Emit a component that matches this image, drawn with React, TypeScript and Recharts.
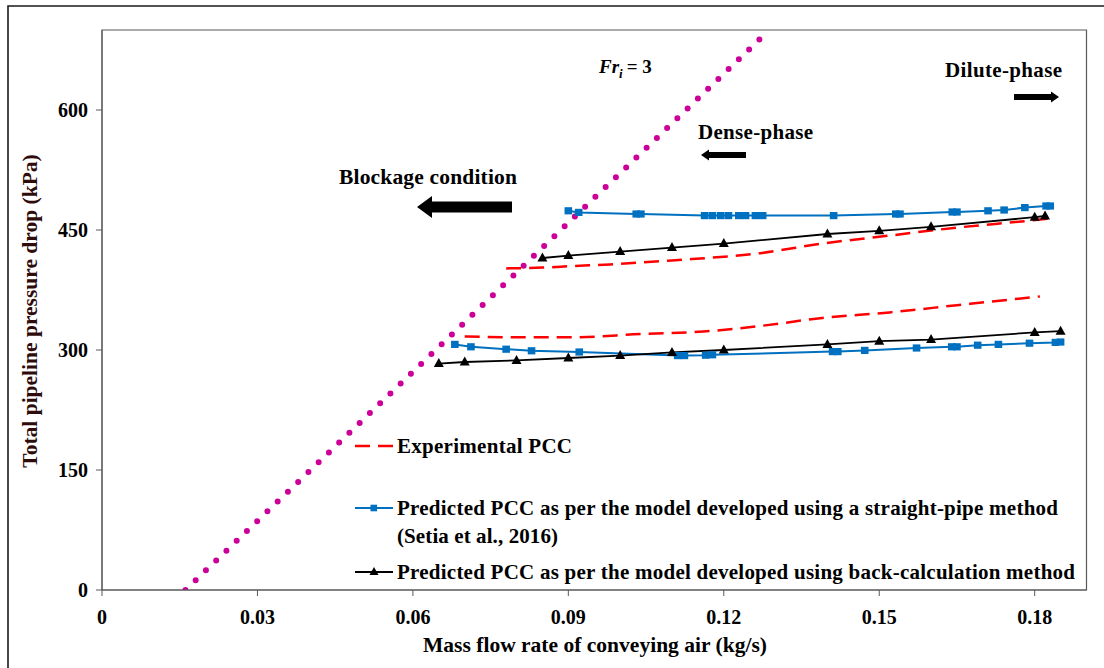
import { Legend, Line, LineChart, ReferenceArea, XAxis, YAxis } from "recharts";

// Fr_i = 3 boundary (straight line in this plane)
const froudeX = [0.0161, 0.1288];
const froudeY = [0, 700];

// experimental PCC, upper and lower solids loading
const expHighX = [0.078, 0.085, 0.091, 0.098, 0.11, 0.127, 0.139, 0.152, 0.165, 0.178, 0.184];
const expHighY = [402, 403, 405, 407, 412, 421, 433, 443, 453, 461, 465];
const expLowX = [0.07, 0.078, 0.091, 0.104, 0.116, 0.127, 0.139, 0.152, 0.165, 0.181];
const expLowY = [317, 316, 316, 320, 323, 330, 340, 347, 356, 367];

// straight-pipe model (Setia et al., 2016)
const pipeHighX = [
  0.09, 0.092, 0.1031, 0.104, 0.1163, 0.1178, 0.1194, 0.1209, 0.1229, 0.1242, 0.1261,
  0.1275, 0.1412, 0.1532, 0.154, 0.1641, 0.165, 0.171, 0.1741, 0.1781, 0.1822, 0.183,
];
const pipeHighY = [
  474, 472, 470, 470, 468, 468, 468, 468, 468, 468, 468, 468, 468, 470, 470, 472.5, 472.5,
  474, 475, 478, 480, 480,
];
const pipeLowX = [
  0.0681, 0.0712, 0.078, 0.0829, 0.0921, 0.1111, 0.1124, 0.1165, 0.1178, 0.141, 0.142,
  0.1472, 0.1572, 0.164, 0.165, 0.169, 0.173, 0.179, 0.184, 0.185,
];
const pipeLowY = [
  307, 304, 301, 299, 297.5, 293, 293, 293.5, 294, 298, 298, 299.5, 302.5, 304, 304, 306,
  307, 308.5, 309.5, 310,
];

// back-calculation model
const backHighX = [0.085, 0.09, 0.1, 0.11, 0.12, 0.14, 0.15, 0.16, 0.18, 0.182];
const backHighY = [415, 418, 423, 428, 433, 445, 449, 454, 466, 467.5];
const backLowX = [0.065, 0.07, 0.08, 0.09, 0.1, 0.11, 0.12, 0.14, 0.15, 0.16, 0.18, 0.185];
const backLowY = [283, 285, 287, 290, 293, 297, 300, 307, 311, 313, 322, 323.5];

const xTicks = [0, 0.03, 0.06, 0.09, 0.12, 0.15, 0.18];
const yTicks = [0, 150, 300, 450, 600];

const legendNames = [
  "Experimental PCC",
  "Predicted PCC as per the model developed using a straight-pipe method (Setia et al., 2016)",
  "Predicted PCC as per the model developed using back-calculation method",
];

const zip = (xs: number[], ys: number[]) => xs.map((x, i) => ({ x, y: ys[i] }));

const serif = "'Liberation Serif', 'Times New Roman', serif";
const BLUE = "#0070C0";
const RED = "#FF0000";
const MAGENTA = "#CC0099";
const AXIS = "#595959";

function Square(props: any) {
  const { cx, cy, index } = props;
  if (cx == null || cy == null) return <g key={`sq-${index}`} />;
  return <rect key={`sq-${index}`} x={cx - 3.8} y={cy - 3.6} width={7.6} height={7.2} fill={BLUE} />;
}

function Triangle(props: any) {
  const { cx, cy, index } = props;
  if (cx == null || cy == null) return <g key={`tr-${index}`} />;
  return (
    <path key={`tr-${index}`} d={`M${cx},${cy - 5.5} L${cx + 5},${cy + 3.5} L${cx - 5},${cy + 3.5} Z`} fill="#000" />
  );
}

function PccLegend({ payload }: any) {
  const items = (payload || []).filter((e: any) => e.type !== "none");
  const rowY = [21, 83, 147];
  const widths = [[175], [661, 161], [678]];
  return (
    <svg width={750} height={165} style={{ overflow: "visible" }}>
      {items.map((entry: any, i: number) => {
        const y = rowY[i];
        const text: string = entry.value;
        const cut = text.indexOf(" (Setia");
        const lines = cut > 0 ? [text.slice(0, cut), text.slice(cut + 1)] : [text];
        return (
          <g key={text}>
            {i === 0 && <line x1={10} x2={48} y1={y} y2={y} stroke={RED} strokeWidth={2.5} strokeDasharray="15 8" />}
            {i === 1 && (
              <g>
                <line x1={10} x2={48} y1={y} y2={y} stroke={BLUE} strokeWidth={2} />
                <rect x={25.5} y={y - 3.3} width={6.6} height={6.6} fill={BLUE} />
              </g>
            )}
            {i === 2 && (
              <g>
                <line x1={10} x2={48} y1={y} y2={y} stroke="#000" strokeWidth={2} />
                <path d={`M29,${y - 5} L33.5,${y + 3} L24.5,${y + 3} Z`} fill="#000" />
              </g>
            )}
            {lines.map((ln, k) => (
              <text
                key={ln}
                x={52}
                y={y + k * 28 + 7}
                fontFamily={serif}
                fontWeight={700}
                fontSize={21}
                fill="#000"
                textLength={widths[i][k]}
                lengthAdjust="spacing"
              >
                {ln}
              </text>
            ))}
          </g>
        );
      })}
    </svg>
  );
}

function Arrow({ tip, tail, y, body, head, headLen }: { tip: number; tail: number; y: number; body: number; head: number; headLen: number }) {
  const dir = tail > tip ? 1 : -1;
  const neck = tip + dir * headLen;
  const d = `M${tip},${y} L${neck},${y - head} L${neck},${y - body} L${tail},${y - body} L${tail},${y + body} L${neck},${y + body} L${neck},${y + head} Z`;
  return <path d={d} fill="#000" />;
}

export default function App() {
  const labelStyle = { fontFamily: serif, fontWeight: 700, fill: "#000" } as const;
  return (
    <div style={{ position: "relative", width: 1104, height: 668, background: "#fff" }}>
      <style>{"body{margin:0;background:#fff}"}</style>
      <LineChart width={1104} height={668} margin={{ top: 30, right: 17.5, bottom: 28, left: 0 }}>
        <ReferenceArea x1={0} x2={0.19} y1={0} y2={700} fill="none" stroke={AXIS} strokeWidth={1.2} />
        <XAxis
          dataKey="x"
          type="number"
          domain={[0, 0.19]}
          ticks={xTicks}
          allowDataOverflow
          stroke={AXIS}
          tickSize={6}
          tickMargin={14}
          height={50}
          tickFormatter={(v: number) => (v === 0 ? "0" : v.toFixed(2))}
          tick={{ fill: "#000", fontSize: 20, fontWeight: 700, fontFamily: serif }}
        />
        <YAxis
          type="number"
          domain={[0, 700]}
          ticks={yTicks}
          allowDataOverflow
          width={102}
          stroke={AXIS}
          tickSize={6}
          tickMargin={8}
          tick={{ fill: "#000", fontSize: 20, fontWeight: 700, fontFamily: serif }}
        />
        <Legend
          layout="vertical"
          align="center"
          verticalAlign="middle"
          content={<PccLegend />}
          wrapperStyle={{ left: 345, top: 425, width: 750, height: 165 }}
        />
        <Line
          data={zip(froudeX, froudeY)}
          dataKey="y"
          stroke={MAGENTA}
          strokeWidth={6}
          strokeDasharray="0 14.2"
          strokeLinecap="round"
          dot={false}
          activeDot={false}
          legendType="none"
          isAnimationActive={false}
        />
        <Line
          data={zip(expHighX, expHighY)}
          dataKey="y"
          name={legendNames[0]}
          type="monotone"
          stroke={RED}
          strokeWidth={2.5}
          strokeDasharray="15 8"
          dot={false}
          activeDot={false}
          isAnimationActive={false}
        />
        <Line
          data={zip(expLowX, expLowY)}
          dataKey="y"
          type="monotone"
          stroke={RED}
          strokeWidth={2.5}
          strokeDasharray="15 8"
          dot={false}
          activeDot={false}
          legendType="none"
          isAnimationActive={false}
        />
        <Line
          data={zip(pipeHighX, pipeHighY)}
          dataKey="y"
          name={legendNames[1]}
          stroke={BLUE}
          strokeWidth={2}
          dot={Square}
          activeDot={false}
          isAnimationActive={false}
        />
        <Line
          data={zip(pipeLowX, pipeLowY)}
          dataKey="y"
          stroke={BLUE}
          strokeWidth={2}
          dot={Square}
          activeDot={false}
          legendType="none"
          isAnimationActive={false}
        />
        <Line
          data={zip(backHighX, backHighY)}
          dataKey="y"
          name={legendNames[2]}
          stroke="#000"
          strokeWidth={1.8}
          dot={Triangle}
          activeDot={false}
          isAnimationActive={false}
        />
        <Line
          data={zip(backLowX, backLowY)}
          dataKey="y"
          stroke="#000"
          strokeWidth={1.8}
          dot={Triangle}
          activeDot={false}
          legendType="none"
          isAnimationActive={false}
        />
      </LineChart>

      {/* frame, axis titles and regime annotations */}
      <svg width={1104} height={668} style={{ position: "absolute", left: 0, top: 0, pointerEvents: "none" }}>
        <path d="M8,668 L8,6 L1104,6" fill="none" stroke="#1a1a1a" strokeWidth={1.6} />
        <text x={595} y={652} textAnchor="middle" fontSize={21.5} textLength={344} lengthAdjust="spacing" {...labelStyle}>
          Mass flow rate of conveying air (kg/s)
        </text>
        <text
          x={0}
          y={0}
          transform="translate(37,311) rotate(-90)"
          textAnchor="middle"
          fontSize={21.5}
          {...labelStyle}
          fill="#2e0c0c"
        >
          Total pipeline pressure drop (kPa)
        </text>

        <text x={599} y={73} fontFamily={serif} fontWeight={700} fontSize={19} fill="#000">
          <tspan fontStyle="italic">Fr</tspan>
          <tspan fontStyle="italic" fontSize={13} dy={5}>i</tspan>
          <tspan dy={-5} dx={4}>= 3</tspan>
        </text>

        <text x={339} y={184} fontSize={21.5} textLength={178} lengthAdjust="spacing" {...labelStyle}>
          Blockage condition
        </text>
        <Arrow tip={417} tail={512} y={207} body={5.5} head={11} headLen={15} />

        <text x={698} y={139} fontSize={21} textLength={115} lengthAdjust="spacing" {...labelStyle}>
          Dense-phase
        </text>
        <Arrow tip={701} tail={746} y={155} body={3} head={5.5} headLen={8} />

        <text x={945} y={77} fontSize={21} textLength={117} lengthAdjust="spacing" {...labelStyle}>
          Dilute-phase
        </text>
        <Arrow tip={1059} tail={1014} y={97} body={3} head={5.5} headLen={8} />
      </svg>
    </div>
  );
}
